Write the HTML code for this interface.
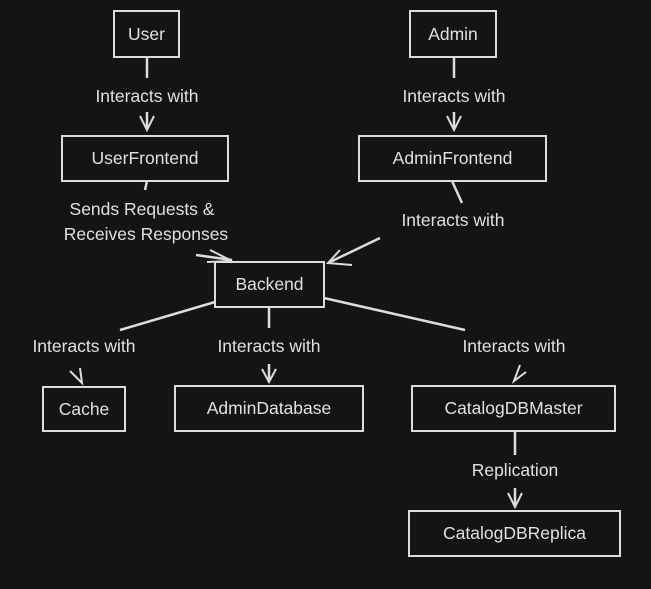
<!DOCTYPE html>
<html><head><meta charset="utf-8"><style>
html,body{margin:0;padding:0;background:#141414;}
svg{display:block;}
text{font-family:"Liberation Sans",sans-serif;font-size:17.5px;fill:#e0e0e0;text-anchor:middle;dominant-baseline:central;}
.b{fill:none;stroke:#dcdcdc;stroke-width:2;}
.l{fill:none;stroke:#dcdcdc;stroke-width:2.5;}
.a{fill:none;stroke:#dcdcdc;stroke-width:2;}
</style></head><body>
<svg width="651" height="589" viewBox="0 0 651 589">
<rect width="651" height="589" fill="#141414"/>
<rect class="b" x="114" y="11" width="65" height="46"/><text x="146.5" y="34">User</text>
<rect class="b" x="410" y="11" width="86" height="46"/><text x="453" y="34">Admin</text>
<rect class="b" x="62" y="136" width="166" height="45"/><text x="145" y="158">UserFrontend</text>
<rect class="b" x="359" y="136" width="187" height="45"/><text x="452.5" y="158">AdminFrontend</text>
<rect class="b" x="215" y="262" width="109" height="45"/><text x="269.5" y="284">Backend</text>
<rect class="b" x="43" y="387" width="82" height="44"/><text x="84" y="409">Cache</text>
<rect class="b" x="175" y="386" width="188" height="45"/><text x="269" y="408">AdminDatabase</text>
<rect class="b" x="412" y="386" width="203" height="45"/><text x="513.5" y="408">CatalogDBMaster</text>
<rect class="b" x="409" y="511" width="211" height="45"/><text x="514.5" y="533">CatalogDBReplica</text>
<path class="l" d="M147 57 L147 78"/><path class="l" d="M147 112 L147 128"/><path class="a" d="M140 116 L147 130 L154 116"/>
<path class="l" d="M454 57 L454 78"/><path class="l" d="M454 112 L454 128"/><path class="a" d="M447 116 L454 130 L461 116"/>
<path class="l" d="M147 181 L145 190"/>
<path class="l" d="M196 255 L232 260"/><path class="a" d="M210 250 L232 261 L207 262"/>
<path class="l" d="M452 181 L462 203"/>
<path class="l" d="M380 238 L330 262"/><path class="a" d="M340 250 L328 263 L352 265"/>
<path class="l" d="M215 302 L120 330"/>
<path class="a" d="M70 371 L82 383 L80 368"/>
<path class="l" d="M269 307 L269 328"/><path class="l" d="M269 364 L269 382"/><path class="a" d="M262 369 L269 382 L276 369"/>
<path class="l" d="M324 298 L465 330"/>
<path class="a" d="M520 365 L514 381 L526 372"/>
<path class="l" d="M515 431 L515 455"/><path class="l" d="M515 488 L515 507"/><path class="a" d="M508 493 L515 507 L522 493"/>
<text x="147" y="96">Interacts with</text>
<text x="454" y="96">Interacts with</text>
<text x="142" y="209">Sends Requests &amp;</text>
<text x="146" y="234">Receives Responses</text>
<text x="453" y="220">Interacts with</text>
<text x="84" y="346">Interacts with</text>
<text x="269" y="346">Interacts with</text>
<text x="514" y="346">Interacts with</text>
<text x="515" y="470">Replication</text>
</svg>
</body></html>
